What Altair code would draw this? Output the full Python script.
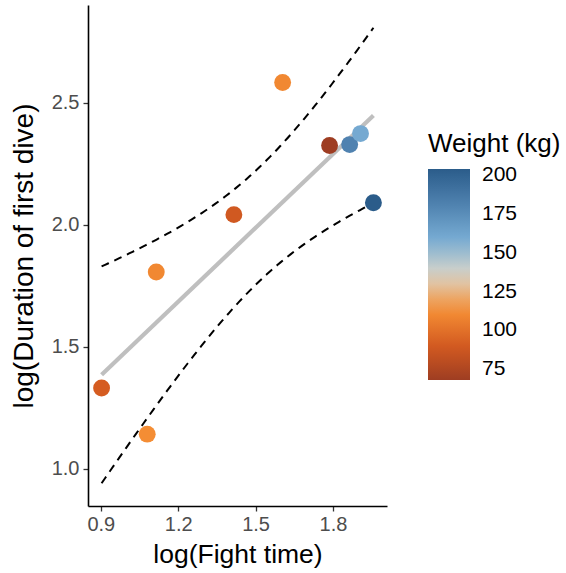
import altair as alt
import numpy as np
import pandas as pd

# Observations: log fight time, log duration of the first dive, body weight
fight_time = [0.903, 1.080, 1.115, 1.416, 1.605, 1.787, 1.865, 1.907, 1.957]
dive_duration = [1.331, 1.142, 1.806, 2.041, 2.582, 2.324, 2.328, 2.373, 2.090]
weight = [91, 112, 110, 89, 110, 68, 181, 160, 204]

x_ticks = [0.9, 1.2, 1.5, 1.8]
y_ticks = [1.0, 1.5, 2.0, 2.5]
weight_ticks = [75, 100, 125, 150, 175, 200]

# Tableau "Orange-Blue Diverging" palette, low to high
palette = ["#9e3d22", "#d45b21", "#f69035", "#d9d5c9", "#77acd3", "#4f81af", "#2b5c8a"]

FONT = "Liberation Sans"

points = pd.DataFrame({"ft": fight_time, "dd": dive_duration, "w": weight})

# Ordinary least squares fit with its 95% confidence band for the mean
x = np.array(fight_time)
y = np.array(dive_duration)
n = len(x)
xm, ym = x.mean(), y.mean()
sxx = ((x - xm) ** 2).sum()
slope = ((x - xm) * (y - ym)).sum() / sxx
intercept = ym - slope * xm
resid = y - (intercept + slope * x)
s = np.sqrt((resid ** 2).sum() / (n - 2))
t975 = 2.364624  # Student t, 7 degrees of freedom
grid = np.linspace(x.min(), x.max(), 80)
fit = intercept + slope * grid
half = t975 * s * np.sqrt(1.0 / n + (grid - xm) ** 2 / sxx)
band = pd.concat([
    pd.DataFrame({"ft": grid, "dd": fit + half, "side": "upper"}),
    pd.DataFrame({"ft": grid, "dd": fit - half, "side": "lower"}),
])

def expand(lo, hi, frac=0.05):
    d = (hi - lo) * frac
    return [lo - d, hi + d]

x_dom = expand(x.min(), x.max())
y_dom = expand(min(y.min(), (fit - half).min()), max(y.max(), (fit + half).max()))

W, H = 299, 501

xs = alt.Scale(domain=x_dom, nice=False, zero=False)
ys = alt.Scale(domain=y_dom, nice=False, zero=False)

x_axis = alt.Axis(
    values=x_ticks, format=".1f", title="log(Fight time)", grid=False,
    domainColor="black", domainWidth=1.6, tickColor="#333333", tickWidth=1.3,
    tickSize=5, labelColor="#4d4d4d", labelFontSize=20, labelFont=FONT,
    labelPadding=3, titleFont=FONT, titleFontSize=26.5, titleFontWeight="normal",
    titleColor="black", titlePadding=7,
)
y_axis = alt.Axis(
    values=y_ticks, format=".1f", title="log(Duration of first dive)", grid=False,
    domainColor="black", domainWidth=1.6, tickColor="#333333", tickWidth=1.3,
    tickSize=5, labelColor="#4d4d4d", labelFontSize=20, labelFont=FONT,
    labelPadding=4, titleFont=FONT, titleFontSize=28, titleFontWeight="normal",
    titleColor="black", titlePadding=13,
)

base = alt.Chart(points)

fit_line = base.transform_regression("ft", "dd", method="linear").mark_line(
    color="#bfbfbf", strokeWidth=4.2
).encode(
    x=alt.X("ft:Q", scale=xs, axis=x_axis),
    y=alt.Y("dd:Q", scale=ys, axis=y_axis),
)

band_lines = alt.Chart(band).mark_line(
    color="black", strokeWidth=2, strokeDash=[8, 6]
).encode(
    x=alt.X("ft:Q", scale=xs),
    y=alt.Y("dd:Q", scale=ys),
    detail="side:N",
)

dots = base.mark_circle(size=285, opacity=1).encode(
    x=alt.X("ft:Q", scale=xs),
    y=alt.Y("dd:Q", scale=ys),
    color=alt.Color(
        "w:Q",
        scale=alt.Scale(range=palette, interpolate="rgb", nice=False, zero=False),
        legend=alt.Legend(
            title="Weight (kg)", values=weight_ticks, orient="none",
            legendX=340, legendY=126, gradientLength=211, gradientThickness=42,
            titleFont=FONT, titleFontSize=26, titleFontWeight="normal",
            titleColor="black", titlePadding=12, labelFont=FONT,
            labelFontSize=21, labelColor="black", labelOffset=12,
            gradientStrokeWidth=0, labelOverlap=False,
        ),
    ),
)

chart = alt.layer(fit_line, band_lines, dots).properties(
    width=W, height=H,
    background="white",
    autosize=alt.AutoSizeParams(type="none"),
    padding={"left": 88, "top": 5, "right": 179, "bottom": 67},
).configure_view(stroke=None)

chart.save("out.html", embed_options={"renderer": "svg", "actions": False})
